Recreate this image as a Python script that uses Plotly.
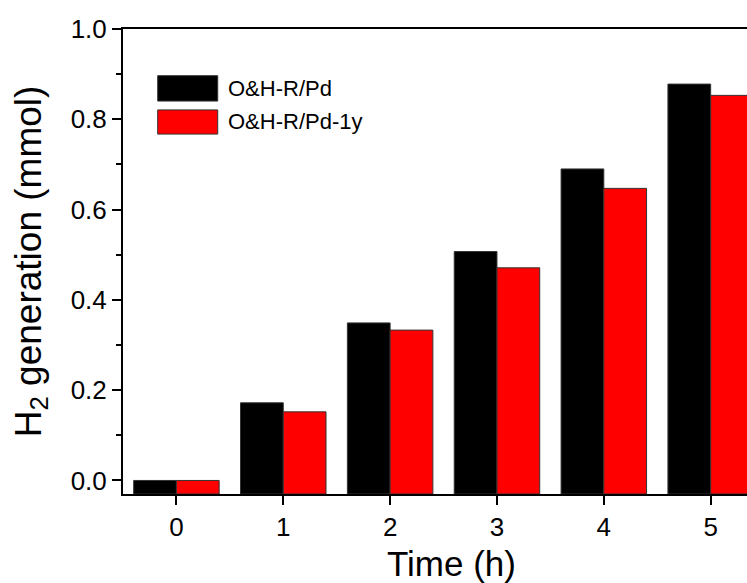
import plotly.graph_objects as go

# ---- data ----
times = [0, 1, 2, 3, 4, 5]
series_names = ["O&H-R/Pd", "O&H-R/Pd-1y"]
h2_pd = [0.0, 0.172, 0.349, 0.507, 0.690, 0.878]
h2_pd_1y = [0.0, 0.152, 0.333, 0.471, 0.647, 0.853]
y_ticks = [0.0, 0.2, 0.4, 0.6, 0.8, 1.0]
y_tick_labels = ["0.0", "0.2", "0.4", "0.6", "0.8", "1.0"]
x_title = "Time (h)"
y_title = "H<sub>2</sub> generation (mmol)"

Y_MIN, Y_MAX = -0.03, 1.0
FONT = "Liberation Sans, Arial, sans-serif"
colors = ["#000000", "#ff0000"]

fig = go.Figure()
for name, vals, col, off in [(series_names[0], h2_pd, colors[0], -0.4),
                             (series_names[1], h2_pd_1y, colors[1], 0.0)]:
    fig.add_trace(go.Bar(
        x=times, y=[v - Y_MIN for v in vals], base=Y_MIN,
        name=name, width=0.4, offset=off,
        marker=dict(color=col, line=dict(color="#333333", width=1)),
        showlegend=False,
    ))

# custom legend (large swatches like the original)
legend_rows = [(0.8996, 0.845, 0.873), (0.826, 0.774, 0.802)]
for (y1, y0, yt), name, col in zip(legend_rows, series_names, colors):
    fig.add_shape(type="rect", xref="paper", yref="paper",
                  x0=0.0556, x1=0.1518, y0=y0, y1=y1,
                  fillcolor=col, line=dict(color="#333333", width=1))
    fig.add_annotation(xref="paper", yref="paper", x=0.165, y=yt,
                       text=name, showarrow=False, xanchor="left", yanchor="middle",
                       font=dict(family=FONT, size=22, color="black"))

# x-axis title (centred as in the original, whose plot extends past the crop)
fig.add_annotation(xref="paper", yref="paper", x=0.527, y=-0.15,
                   text=x_title, showarrow=False, xanchor="center", yanchor="middle",
                   font=dict(family=FONT, size=35, color="black"))

fig.update_layout(
    width=747, height=583,
    margin=dict(l=123, r=0, t=29, b=89, autoexpand=False),
    plot_bgcolor="white", paper_bgcolor="white",
    barmode="overlay",
    font=dict(family=FONT, color="black"),
)
fig.update_xaxes(
    range=[-0.5, 5.34], tickvals=times, ticktext=[str(t) for t in times],
    showline=True, linecolor="black", linewidth=2, mirror=True,
    ticks="outside", ticklen=9, tickwidth=2, tickcolor="black",
    showgrid=False, zeroline=False,
    tickfont=dict(family=FONT, size=26),
)
fig.update_yaxes(
    range=[Y_MIN, Y_MAX], tickvals=y_ticks, ticktext=y_tick_labels,
    showline=True, linecolor="black", linewidth=2, mirror=False,
    ticks="outside", ticklen=9, tickwidth=2, tickcolor="black",
    minor=dict(ticks="outside", ticklen=5, tickwidth=2, tickcolor="black", dtick=0.1, tick0=0),
    showgrid=False, zeroline=False,
    tickfont=dict(family=FONT, size=26),
    title=dict(text=y_title, font=dict(family=FONT, size=37), standoff=18),
)

fig.write_html("out.html", config={"displayModeBar": False},
               post_script="document.body.style.margin='0';document.body.style.overflow='hidden';")
